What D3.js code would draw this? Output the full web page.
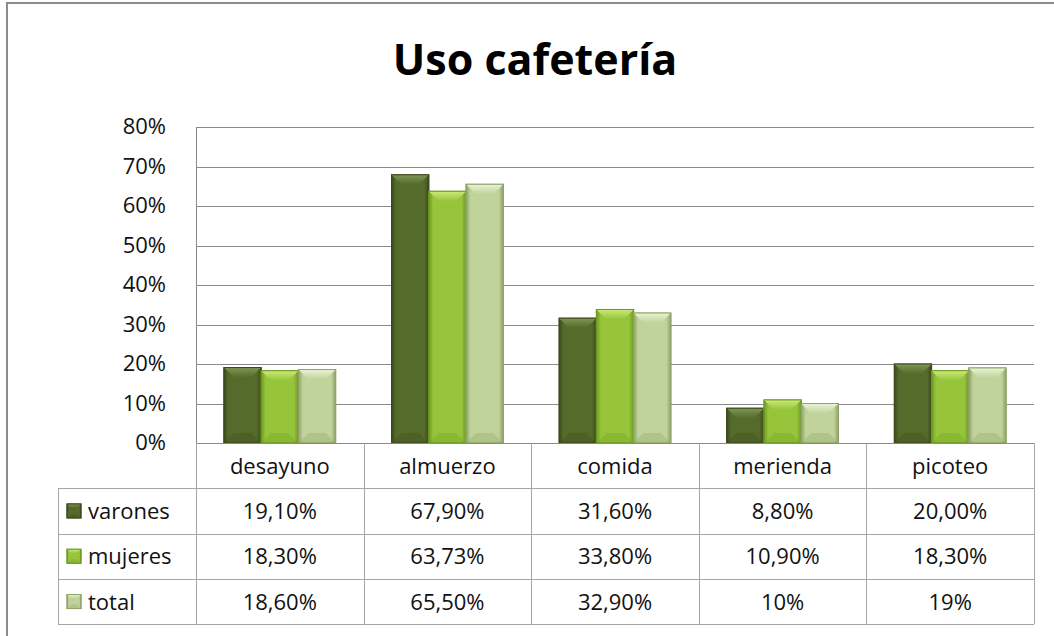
<!DOCTYPE html>
<html>
<head>
<meta charset="utf-8">
<script src="https://d3js.org/d3.v7.min.js"></script>
<style>
  body { margin: 0; background: #fff; }
  text { font-family: "Open Sans", sans-serif; fill: #111; }
</style>
</head>
<body>
<svg id="chart" width="1054" height="636"></svg>
<script>
// data
var categories = ["desayuno", "almuerzo", "comida", "merienda", "picoteo"];
var series = ["varones", "mujeres", "total"];
var varones = [0.191, 0.679, 0.316, 0.088, 0.200];
var mujeres = [0.183, 0.6373, 0.338, 0.109, 0.183];
var total = [0.186, 0.655, 0.329, 0.10, 0.19];
var varonesLabels = ["19,10%", "67,90%", "31,60%", "8,80%", "20,00%"];
var mujeresLabels = ["18,30%", "63,73%", "33,80%", "10,90%", "18,30%"];
var totalLabels = ["18,60%", "65,50%", "32,90%", "10%", "19%"];
var yTicks = [0, 0.1, 0.2, 0.3, 0.4, 0.5, 0.6, 0.7, 0.8];

var values = { varones: varones, mujeres: mujeres, total: total };
var labels = { varones: varonesLabels, mujeres: mujeresLabels, total: totalLabels };

// bar look: edge, face, top bevel
var look = {
  varones: { edge: "#3b4a1c", face: "#556b2c", top: "#7f9555" },
  mujeres: { edge: "#6e9a22", face: "#96c53c", top: "#cbe977" },
  total:   { edge: "#8fa268", face: "#bfd39a", top: "#eaf4d4" }
};

var svg = d3.select("#chart");
var plotLeft = 196, plotRight = 1034, plotTop = 127, plotBottom = 443;
var rowH = 45.3;
var fs = "22px";

var x = d3.scaleBand().domain(categories).range([plotLeft, plotRight]);
var xs = d3.scaleBand().domain(series).range([0, x.bandwidth()]).paddingOuter(0.75);
var y = d3.scaleLinear().domain([0, 0.8]).range([plotBottom, plotTop]);

// outer frame
svg.append("rect")
  .attr("x", 7).attr("y", 3).attr("width", 1080).attr("height", 660)
  .attr("fill", "none").attr("stroke", "#8c8c8c").attr("stroke-width", 2);

// title
svg.append("text")
  .attr("x", 535).attr("y", 75)
  .attr("text-anchor", "middle")
  .style("font-size", "43px").style("font-weight", "bold").style("fill", "#000")
  .text("Uso cafetería");

// gradients per series
var defs = svg.append("defs");
series.forEach(function(s) {
  var g = defs.append("linearGradient").attr("id", "g-" + s)
    .attr("x1", 0).attr("x2", 1).attr("y1", 0).attr("y2", 0);
  g.append("stop").attr("offset", "0").attr("stop-color", look[s].edge);
  g.append("stop").attr("offset", "0.12").attr("stop-color", look[s].face);
  g.append("stop").attr("offset", "0.88").attr("stop-color", look[s].face);
  g.append("stop").attr("offset", "1").attr("stop-color", look[s].edge);
  var t = defs.append("linearGradient").attr("id", "t-" + s)
    .attr("x1", 0).attr("x2", 0).attr("y1", 0).attr("y2", 1);
  t.append("stop").attr("offset", "0").attr("stop-color", look[s].top);
  t.append("stop").attr("offset", "1").attr("stop-color", look[s].face);
});

// gridlines
svg.append("g").selectAll("line")
  .data(yTicks.slice(1))
  .enter().append("line")
  .attr("x1", plotLeft).attr("x2", plotRight)
  .attr("y1", function(d) { return Math.round(y(d)) + 0.5; })
  .attr("y2", function(d) { return Math.round(y(d)) + 0.5; })
  .attr("stroke", "#8a8a8a").attr("stroke-width", 1);

// y axis labels
svg.append("g").selectAll("text")
  .data(yTicks)
  .enter().append("text")
  .attr("x", 166)
  .attr("y", function(d) { return y(d) + 7; })
  .attr("text-anchor", "end")
  .style("font-size", fs)
  .text(function(d) { return Math.round(d * 100) + "%"; });

// bars
function bevelBar(g, s, bx, by, bw, bh, bev) {
  var b = Math.min(bev, bh / 2);
  g.append("rect")
    .attr("x", bx).attr("y", by).attr("width", bw).attr("height", bh)
    .attr("fill", "url(#g-" + s + ")")
    .attr("stroke", look[s].edge).attr("stroke-width", 1);
  g.append("path")
    .attr("d", "M" + bx + "," + by + "L" + (bx + bw) + "," + by +
      "L" + (bx + bw - b) + "," + (by + b) + "L" + (bx + b) + "," + (by + b) + "Z")
    .attr("fill", "url(#t-" + s + ")");
  g.append("path")
    .attr("d", "M" + bx + "," + (by + bh) + "L" + (bx + bw) + "," + (by + bh) +
      "L" + (bx + bw - b) + "," + (by + bh - b) + "L" + (bx + b) + "," + (by + bh - b) + "Z")
    .attr("fill", look[s].edge).attr("opacity", 0.3);
  g.append("rect")
    .attr("x", bx).attr("y", by).attr("width", bw).attr("height", bh)
    .attr("fill", "none")
    .attr("stroke", look[s].edge).attr("stroke-width", 1);
}

var bars = svg.append("g");
categories.forEach(function(c, i) {
  series.forEach(function(s) {
    var v = values[s][i];
    bevelBar(bars, s, x(c) + xs(s), y(v), xs.bandwidth(), y(0) - y(v), 10);
  });
});

// axis lines
svg.append("line")
  .attr("x1", plotLeft + 0.5).attr("x2", plotLeft + 0.5).attr("y1", plotTop).attr("y2", plotBottom)
  .attr("stroke", "#8a8a8a");
svg.append("line")
  .attr("x1", plotLeft).attr("x2", plotRight).attr("y1", plotBottom + 0.5).attr("y2", plotBottom + 0.5)
  .attr("stroke", "#8a8a8a");

// data table
var tableLeft = 58;
var tbl = svg.append("g");
var lineColor = "#a6a6a6";

// verticals
tbl.selectAll("line.hv")
  .data(categories.concat(["end"]))
  .enter().append("line")
  .attr("class", "hv")
  .attr("x1", function(d, i) { return Math.round(plotLeft + i * x.step()) + 0.5; })
  .attr("x2", function(d, i) { return Math.round(plotLeft + i * x.step()) + 0.5; })
  .attr("y1", plotBottom).attr("y2", plotBottom + rowH * 4)
  .attr("stroke", lineColor);

// horizontal lines
[1, 2, 3, 4].forEach(function(r) {
  tbl.append("line")
    .attr("x1", tableLeft).attr("x2", plotRight)
    .attr("y1", Math.round(plotBottom + r * rowH) + 0.5)
    .attr("y2", Math.round(plotBottom + r * rowH) + 0.5)
    .attr("stroke", lineColor);
});
tbl.append("line")
  .attr("x1", tableLeft + 0.5).attr("x2", tableLeft + 0.5)
  .attr("y1", plotBottom + rowH).attr("y2", plotBottom + rowH * 4)
  .attr("stroke", lineColor);

// category names
tbl.selectAll("text.cat")
  .data(categories)
  .enter().append("text")
  .attr("class", "cat")
  .attr("x", function(d) { return x(d) + x.bandwidth() / 2; })
  .attr("y", plotBottom + rowH / 2 + 8)
  .attr("text-anchor", "middle")
  .style("font-size", fs)
  .text(function(d) { return d; });

// series rows
series.forEach(function(s, r) {
  var ry = plotBottom + (r + 1) * rowH;
  bevelBar(tbl, s, 67, ry + rowH / 2 - 7, 14, 14, 4);
  tbl.append("text")
    .attr("x", 88).attr("y", ry + rowH / 2 + 8)
    .style("font-size", fs)
    .text(s);
  tbl.selectAll("text.v" + s)
    .data(labels[s])
    .enter().append("text")
    .attr("x", function(d, i) { return x(categories[i]) + x.bandwidth() / 2; })
    .attr("y", ry + rowH / 2 + 8)
    .attr("text-anchor", "middle")
    .style("font-size", fs)
    .text(function(d) { return d; });
});
</script>
</body>
</html>
